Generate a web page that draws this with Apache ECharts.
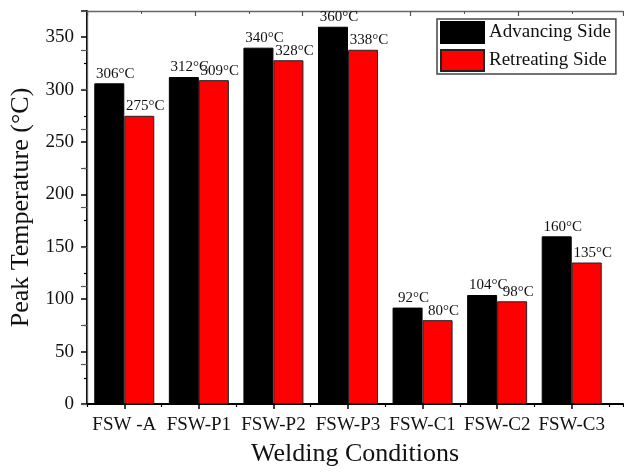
<!DOCTYPE html>
<html>
<head>
<meta charset="utf-8">
<script src="https://cdn.jsdelivr.net/npm/echarts@6/dist/echarts.min.js"></script>
<style>
  html, body { margin: 0; padding: 0; background: #fff; }
  #chart { width: 624px; height: 472px; }
</style>
</head>
<body>
<div id="chart"></div>
<script>
// Peak temperatures on both sides of the weld for each welding condition
const categories = ['FSW -A', 'FSW-P1', 'FSW-P2', 'FSW-P3', 'FSW-C1', 'FSW-C2', 'FSW-C3'];
const advancingSide = [306, 312, 340, 360, 92, 104, 160];
const retreatingSide = [275, 309, 328, 338, 80, 98, 135];
const seriesNames = ['Advancing Side', 'Retreating Side'];

const serif = "'Liberation Serif', 'DejaVu Serif', serif";
const ink = '#111';

function barSeries(name, values, color, border) {
  return {
    name: name,
    type: 'bar',
    xAxisIndex: 0,
    yAxisIndex: 0,
    data: values,
    barWidth: 30,
    barGap: '0%',
    itemStyle: { color: color, borderColor: border, borderWidth: 1 },
    label: {
      show: true,
      position: 'top',
      distance: 2,
      offset: [6, 0],
      formatter: '{c}\u00B0C',
      fontFamily: serif,
      fontSize: 15,
      color: ink
    }
  };
}

const chart = echarts.init(document.getElementById('chart'), null, { renderer: 'canvas' });

chart.setOption({
  backgroundColor: '#fff',
  animation: false,
  grid: [
    { left: 87, right: 15, top: 11, bottom: 68 },
    { left: 87, right: 1, top: 11, bottom: 68 }
  ],
  legend: {
    orient: 'vertical',
    left: 437,
    top: 19,
    data: seriesNames,
    icon: 'rect',
    itemWidth: 43,
    itemHeight: 21,
    itemGap: 5,
    padding: [2, 5, 2, 3],
    borderColor: '#444',
    borderWidth: 1.5,
    backgroundColor: '#fff',
    textStyle: { fontFamily: serif, fontSize: 19, color: ink }
  },
  xAxis: [
    {
      type: 'category',
      gridIndex: 0,
      data: categories,
      axisLine: { show: false },
      axisTick: { show: true, alignWithLabel: true, length: 5, lineStyle: { color: '#000', width: 1.5 } },
      axisLabel: { interval: 0, fontFamily: serif, fontSize: 19, color: ink, margin: 12 },
      splitLine: { show: false }
    },
    {
      // full-width bottom frame line with short ticks on the category boundaries
      type: 'value',
      gridIndex: 1,
      position: 'bottom',
      min: 0,
      max: 536 / 74.57,
      interval: 1,
      axisLine: { show: true, lineStyle: { color: '#000', width: 2 } },
      axisTick: { show: true, length: 3, lineStyle: { color: '#000', width: 1.2 } },
      axisLabel: { show: false },
      splitLine: { show: false },
      name: 'Welding Conditions',
      nameLocation: 'middle',
      nameGap: 37,
      nameTextStyle: { fontFamily: serif, fontSize: 26, color: ink }
    },
    {
      // top frame line
      type: 'value',
      gridIndex: 1,
      position: 'top',
      min: 0,
      max: 4.97,
      interval: 1,
      axisLine: { show: true, lineStyle: { color: '#666', width: 1.3 } },
      axisTick: { show: true, inside: true, length: 5, lineStyle: { color: '#555', width: 1.2 } },
      minorTick: { show: true, splitNumber: 2, length: 3, lineStyle: { color: '#555', width: 1 } },
      axisLabel: { show: false },
      splitLine: { show: false }
    }
  ],
  yAxis: [
    {
      type: 'value',
      gridIndex: 0,
      min: 0,
      max: 375,
      interval: 50,
      axisLine: { show: true, lineStyle: { color: '#000', width: 2 } },
      axisTick: { show: true, length: 6, lineStyle: { color: '#000', width: 1.5 } },
      minorTick: { show: true, splitNumber: 2, length: 3, lineStyle: { color: '#000', width: 1.2 } },
      axisLabel: { showMaxLabel: false, fontFamily: serif, fontSize: 19, color: ink, margin: 13 },
      splitLine: { show: false },
      name: 'Peak Temperature (\u00B0C)',
      nameLocation: 'middle',
      nameRotate: 90,
      nameGap: 44,
      nameTextStyle: { fontFamily: serif, fontSize: 26, color: ink }
    },
    {
      // right frame line
      type: 'value',
      gridIndex: 1,
      position: 'right',
      min: 0,
      max: 10,
      interval: 1,
      axisLine: { show: true, lineStyle: { color: '#666', width: 1.3 } },
      axisTick: { show: true, inside: true, length: 6, lineStyle: { color: '#555', width: 1.2 } },
      axisLabel: { show: false },
      splitLine: { show: false }
    }
  ],
  series: [
    barSeries(seriesNames[0], advancingSide, '#000000', '#000000'),
    barSeries(seriesNames[1], retreatingSide, '#ff0000', '#222222')
  ]
});
</script>
</body>
</html>
